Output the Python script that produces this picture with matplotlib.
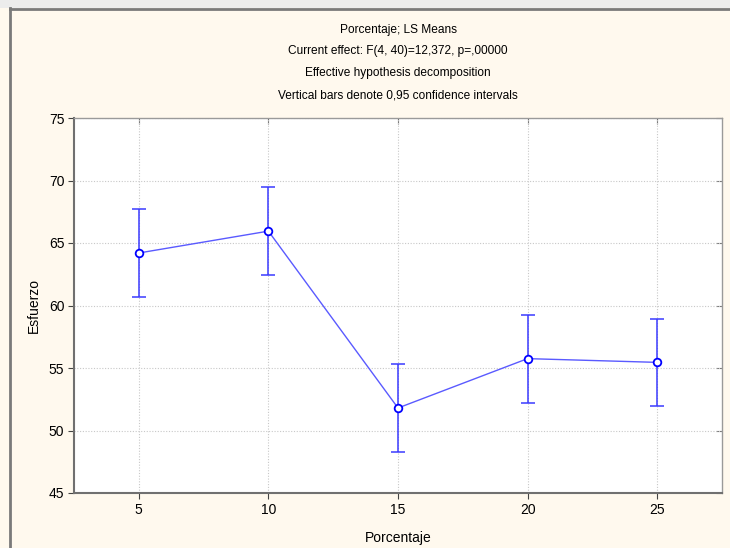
import numpy as np
import matplotlib
matplotlib.use("Agg")
import matplotlib.pyplot as plt
from matplotlib.patches import Rectangle

plt.rcParams['font.family'] = ['Liberation Sans', 'DejaVu Sans']

# LS means per level with 0.95 confidence limits
porcentaje = [5, 10, 15, 20, 25]
esfuerzo = [64.2, 65.95, 51.8, 55.75, 55.45]
ci_low = [60.68, 62.44, 48.28, 52.23, 51.93]
ci_high = [67.72, 69.48, 55.32, 59.27, 58.95]

title_lines = [
    "Porcentaje; LS Means",
    "Current effect: F(4, 40)=12,372, p=,00000",
    "Effective hypothesis decomposition",
    "Vertical bars denote 0,95 confidence intervals",
]

bg = "#fff9ee"
fig = plt.figure(figsize=(7.3, 5.48), dpi=100, facecolor=bg)
W, H = 730, 548

# light strip at the top and dark window frame
fig.patches.append(Rectangle((0, 1 - 8 / H), 1, 8 / H, transform=fig.transFigure,
                             facecolor="#ececec", edgecolor="none", zorder=0))
fig.add_artist(plt.Line2D([10 / W, 10 / W], [0, 1 - 8 / H], transform=fig.transFigure,
                          color="#7a7a7a", lw=2))
fig.add_artist(plt.Line2D([10 / W, 1], [1 - 9 / H, 1 - 9 / H], transform=fig.transFigure,
                          color="#7a7a7a", lw=2))

ax = fig.add_axes([74 / W, 1 - 493 / H, (722 - 74) / W, (493 - 118) / H])
ax.set_facecolor("white")

x = np.array(porcentaje)
y = np.array(esfuerzo)
yerr = [y - np.array(ci_low), np.array(ci_high) - y]

ax.plot(x, y, color="#5a5aff", lw=1, zorder=3)
ax.errorbar(x, y, yerr=yerr, fmt="none", ecolor="#3b3bff", elinewidth=1.1,
            capsize=5, capthick=1.1, zorder=3)
ax.plot(x, y, "o", ms=5.5, mfc="white", mec="#0000ff", mew=1.3, zorder=4)

ax.set_xlim(2.5, 27.5)
ax.set_ylim(45, 75)
ax.set_xticks(porcentaje)
ax.set_yticks(np.arange(45, 76, 5))
ax.grid(True, ls=(0, (1, 1.5)), color="#c8c8c8", lw=0.8)
ax.set_axisbelow(True)

ax.tick_params(axis="both", labelsize=10, length=4, color="#444444", pad=3)
for side in ["top", "right"]:
    ax.spines[side].set_color("#9a9a9a")
for side in ["left", "bottom"]:
    ax.spines[side].set_color("#707070")
    ax.spines[side].set_linewidth(1.5)

# inner ticks on top and right
sec_x = ax.secondary_xaxis("top")
sec_x.set_xticks(porcentaje)
sec_x.tick_params(direction="in", length=4, labeltop=False, color="#777777")
sec_y = ax.secondary_yaxis("right")
sec_y.set_yticks(np.arange(45, 76, 5))
sec_y.tick_params(direction="in", length=4, labelright=False, color="#777777")

ax.set_xlabel("Porcentaje", fontsize=10, labelpad=10.5)
ax.set_ylabel("Esfuerzo", fontsize=10, labelpad=5.5)

ycenters = [30, 51, 73, 95]
for line, yc in zip(title_lines, ycenters):
    fig.text(398 / W, 1 - yc / H, line, ha="center", va="center", fontsize=8.6)

fig.savefig("out.png", dpi=100, facecolor=bg)
